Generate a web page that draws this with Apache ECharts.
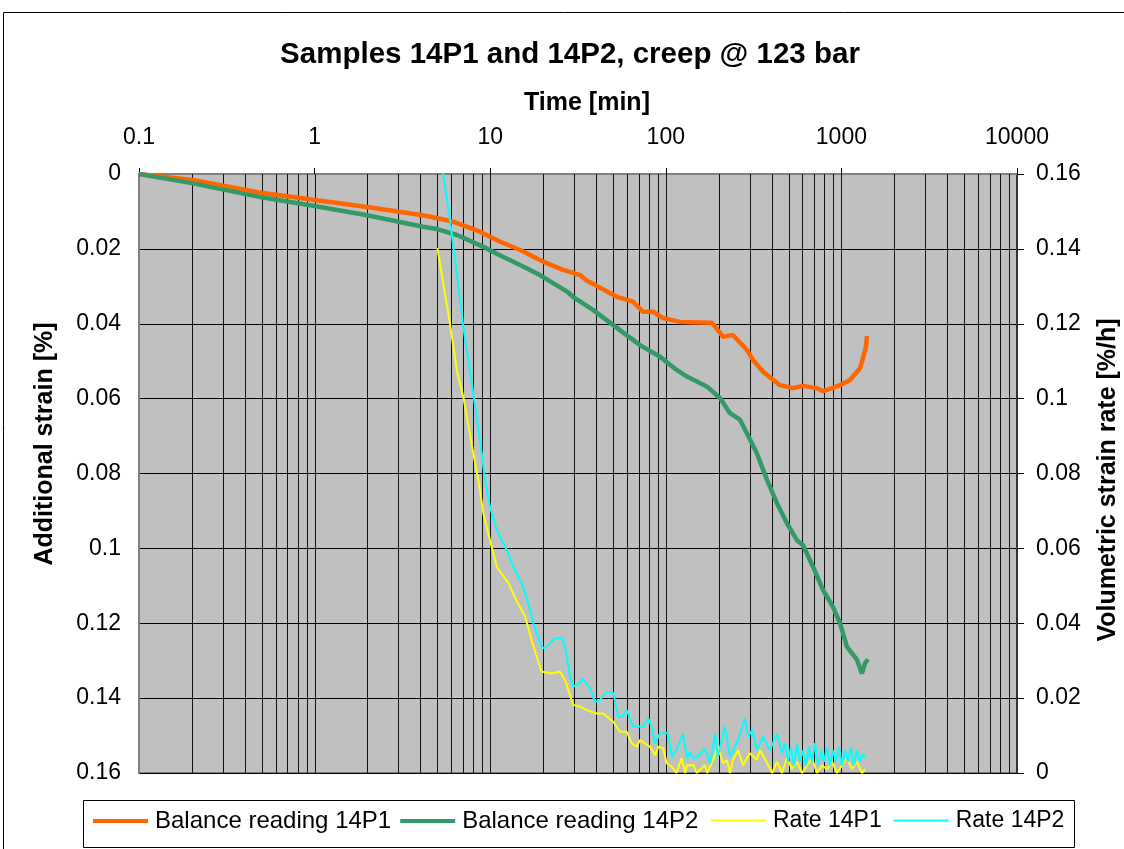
<!DOCTYPE html>
<html>
<head>
<meta charset="utf-8">
<title>Samples 14P1 and 14P2, creep @ 123 bar</title>
<script src="https://cdn.jsdelivr.net/npm/echarts@6/dist/echarts.min.js"></script>
<style>
  html, body { margin: 0; padding: 0; background: #fff; }
  #chart { width: 1124px; height: 849px; }
</style>
</head>
<body>
<div id="chart"></div>
<script>
// Time axis (log, minutes) decade labels
const xTicks = [0.1, 1, 10, 100, 1000, 10000];

// Balance reading 14P1: time [min] and additional strain [%]
const timeBal14P1 = [0.1, 0.203, 0.508, 0.98, 1.99, 4.14, 6.14, 8.75, 11.4, 14.8,
  20.0, 26.0, 32.5, 35.6, 52.7, 65.0, 74.1, 84.6, 96.4, 120.5,
  183, 212, 241, 290, 314, 358, 447, 530, 604, 726,
  785, 884, 982, 1119, 1276, 1327, 1380, 1399];
const strain14P1 = [0, 0.0016, 0.0051, 0.0069, 0.0088, 0.0110, 0.0127, 0.0154, 0.0181, 0.0203,
  0.0234, 0.0256, 0.0270, 0.0285, 0.0328, 0.0341, 0.0368, 0.0368, 0.0385, 0.0395,
  0.0397, 0.0435, 0.0430, 0.0470, 0.0497, 0.0528, 0.0564, 0.0572, 0.0566, 0.0572,
  0.0580, 0.0572, 0.0564, 0.0550, 0.0519, 0.0492, 0.0461, 0.0433];

// Balance reading 14P2
const timeBal14P2 = [0.1, 0.203, 0.508, 0.98, 1.99, 4.14, 4.98, 6.47, 9.10, 11.8,
  14.8, 19.2, 27.4, 29.6, 38.5, 54.8, 71.3, 92.7, 115.8, 132,
  172, 204, 232, 265, 290, 330, 377, 430, 490, 558,
  604, 689, 785, 895, 982, 1076, 1227, 1309, 1362, 1416];
const strain14P2 = [0, 0.0025, 0.0063, 0.0085, 0.0110, 0.0141, 0.0147, 0.0163, 0.0194, 0.0221,
  0.0243, 0.0270, 0.0314, 0.0328, 0.0363, 0.0417, 0.0457, 0.0488, 0.0524, 0.0541,
  0.0568, 0.0599, 0.0639, 0.0657, 0.0693, 0.0746, 0.0817, 0.0880, 0.0933, 0.0978,
  0.0991, 0.1049, 0.1111, 0.1156, 0.1200, 0.1263, 0.1298, 0.1334, 0.1307, 0.1296];

// Rate 14P1: time [min] and volumetric strain rate [%/h]
const timeRate14P1 = [5.0, 5.90, 6.45, 7.03, 8.01, 8.56, 9.14, 9.97, 10.9, 12.7,
  14.2, 15.8, 17.2, 19.6, 22.4, 24.9, 26.7, 29.7, 32.5, 35.5,
  40.4, 44.0, 50.2, 54.8, 59.9, 64.0, 68.3, 71.3, 81.3, 86.8,
  90.6, 96.8, 101, 108, 115, 123, 129, 132, 144, 150,
  167, 172, 186, 198, 212, 223, 232, 241, 258, 275,
  301, 330, 344, 377, 403, 430, 459, 490, 524, 558,
  597, 637, 680, 726, 776, 828, 884, 944, 1007, 1076,
  1148, 1227, 1309, 1362];
const rate14P1 = [0.1402, 0.1201, 0.1076, 0.1005, 0.0854, 0.0783, 0.0694, 0.0622, 0.0551, 0.0507,
  0.0458, 0.0418, 0.0355, 0.0271, 0.0266, 0.0271, 0.0248, 0.0182, 0.0177, 0.0168,
  0.0159, 0.0159, 0.0137, 0.0110, 0.0110, 0.0079, 0.0070, 0.0088, 0.0070, 0.0048,
  0.0070, 0.0066, 0.0026, 0.0017, 0, 0.0039, 0, 0.0021, 0.0021, 0,
  0.0021, 0, 0.0035, 0.0070, 0.0026, 0.0035, 0, 0.0035, 0.0061, 0.0021,
  0.0053, 0.0035, 0.0061, 0.0027, 0, 0.0030, 0, 0.0040, 0.0010, 0.0030,
  0, 0.0020, 0.0040, 0, 0.0020, 0.0010, 0.0030, 0, 0.0020, 0.0040,
  0.0010, 0.0030, 0, 0.0010];

// Rate 14P2
const timeRate14P2 = [5.0, 5.41, 5.90, 6.45, 7.03, 8.01, 8.95, 9.34, 9.97, 10.9,
  12.4, 13.8, 15.1, 16.1, 17.6, 19.6, 20.5, 23.4, 25.5, 26.7,
  28.5, 29.7, 32.5, 33.6, 37.0, 39.5, 42.2, 46.0, 50.2, 53.6,
  56.1, 59.9, 62.5, 65.3, 74.5, 79.5, 83.1, 86.8, 92.7, 103,
  108, 115, 125, 132, 137, 144, 152, 167, 179, 191,
  198, 217, 232, 258, 282, 294, 310, 330, 358, 392,
  430, 459, 478, 497, 516, 537, 558, 581, 604, 628,
  653, 680, 708, 736, 765, 796, 828, 861, 895, 931,
  968, 1007, 1047, 1089, 1133, 1180, 1227, 1276, 1327, 1362];
const rate14P2 = [0.1726, 0.1597, 0.1477, 0.1335, 0.1192, 0.1014, 0.0854, 0.0783, 0.0711, 0.0649,
  0.0596, 0.0542, 0.0507, 0.0471, 0.0400, 0.0337, 0.0333, 0.0360, 0.0360, 0.0337,
  0.0257, 0.0231, 0.0240, 0.0253, 0.0226, 0.0190, 0.0195, 0.0217, 0.0214, 0.0150,
  0.0149, 0.0168, 0.0146, 0.0124, 0.0124, 0.0146, 0.0124, 0.0079, 0.0106, 0.0106,
  0.0044, 0.0061, 0.0106, 0.0039, 0.0057, 0.0039, 0.0044, 0.0066, 0.0026, 0.0106,
  0.0044, 0.0124, 0.0044, 0.0088, 0.0146, 0.0097, 0.0115, 0.0061, 0.0097, 0.0061,
  0.0106, 0.0053, 0.0080, 0.0030, 0.0070, 0.0020, 0.0080, 0.0030, 0.0060, 0.0020,
  0.0070, 0.0030, 0.0080, 0.0020, 0.0060, 0.0030, 0.0070, 0.0020, 0.0060, 0.0030,
  0.0070, 0.0020, 0.0060, 0.0030, 0.0070, 0.0020, 0.0060, 0.0030, 0.0050, 0.0040];

const FONT = '"Liberation Sans", Arial, sans-serif';
const zip = (xs, ys) => xs.map((x, i) => [x, ys[i]]);

// vertical grid at every 1..9 step of each decade
const gridTimes = [];
for (let d = 0; d < xTicks.length - 1; d++) {
  for (let m = 1; m <= 9; m++) {
    const v = xTicks[d] * m;
    if (v > xTicks[0]) gridTimes.push([v, 0]);
  }
}

const chart = echarts.init(document.getElementById('chart'), null, { renderer: 'canvas' });

const labelStyle = { color: '#000', fontSize: 23, fontFamily: FONT };

chart.setOption({
  animation: false,
  backgroundColor: '#ffffff',
  grid: {
    left: 139, right: 107, top: 174, bottom: 76,
    show: true, backgroundColor: '#C0C0C0',
    borderColor: '#808080', borderWidth: 2
  },
  xAxis: {
    type: 'log', logBase: 10, position: 'top',
    min: xTicks[0], max: xTicks[xTicks.length - 1],
    axisLine: { show: true, lineStyle: { color: '#808080', width: 2 } },
    axisTick: { show: true, length: 6, lineStyle: { color: '#000', width: 1 } },
    axisLabel: Object.assign({
      margin: 25,
      formatter: function (v) {
        let best = xTicks[0];
        xTicks.forEach(t => { if (Math.abs(Math.log10(t) - Math.log10(v)) < Math.abs(Math.log10(best) - Math.log10(v))) best = t; });
        return String(best);
      }
    }, labelStyle),
    splitLine: { show: false },
    minorTick: { show: false },
    minorSplitLine: { show: false }
  },
  yAxis: [
    {
      type: 'value', position: 'left', inverse: true,
      min: 0, max: 0.16, interval: 0.02,
      axisLine: { show: true, lineStyle: { color: '#808080', width: 2 } },
      axisTick: { show: false },
      axisLabel: Object.assign({ margin: 18 }, labelStyle),
      splitLine: { show: true, lineStyle: { color: '#000', width: 1 } }
    },
    {
      type: 'value', position: 'right',
      min: 0, max: 0.16, interval: 0.02,
      axisLine: { show: true, lineStyle: { color: '#333', width: 2 } },
      axisTick: { show: true, length: 7, lineStyle: { color: '#000', width: 1 } },
      axisLabel: Object.assign({ margin: 19 }, labelStyle),
      splitLine: { show: false }
    }
  ],
  legend: [
    {
      data: ['Balance reading 14P1', 'Balance reading 14P2'],
      left: 93, top: 809, padding: 0,
      icon: 'rect', itemWidth: 55, itemHeight: 4, itemGap: 9,
      selectedMode: false,
      textStyle: { color: '#000', fontSize: 24, fontFamily: FONT, padding: [0, 0, 0, 2] }
    },
    {
      data: ['Rate 14P1', 'Rate 14P2'],
      left: 711, top: 809, padding: 0,
      icon: 'rect', itemWidth: 55, itemHeight: 2, itemGap: 12,
      selectedMode: false,
      textStyle: { color: '#000', fontSize: 23, fontFamily: FONT, padding: [0, 0, 0, 2] }
    }
  ],
  graphic: [
    { type: 'rect', silent: true, z: -10,
      shape: { x: 3.5, y: 12.5, width: 1200, height: 900 },
      style: { fill: 'none', stroke: '#000', lineWidth: 1 } },
    { type: 'rect', silent: true, z: -5,
      shape: { x: 83.5, y: 800.5, width: 991, height: 47 },
      style: { fill: '#fff', stroke: '#000', lineWidth: 1 } },
    { type: 'text', silent: true, x: 570, y: 55,
      style: { text: 'Samples 14P1 and 14P2, creep @ 123 bar', fill: '#000',
        font: 'bold 29.5px ' + FONT, align: 'center', verticalAlign: 'middle' } },
    { type: 'text', silent: true, x: 587, y: 103,
      style: { text: 'Time [min]', fill: '#000',
        font: 'bold 25px ' + FONT, align: 'center', verticalAlign: 'middle' } },
    { type: 'text', silent: true, x: 45, y: 444, rotation: Math.PI / 2,
      style: { text: 'Additional strain [%]', fill: '#000',
        font: 'bold 25px ' + FONT, align: 'center', verticalAlign: 'middle' } },
    { type: 'text', silent: true, x: 1108, y: 480, rotation: Math.PI / 2,
      style: { text: 'Volumetric strain rate [%/h]', fill: '#000',
        font: 'bold 25px ' + FONT, align: 'center', verticalAlign: 'middle' } }
  ],
  series: [
    {
      // minor/major vertical grid lines of the log time axis
      type: 'custom', name: 'timeGrid', xAxisIndex: 0, yAxisIndex: 0,
      z: 1, silent: true, data: gridTimes, encode: { x: 0, y: 1 },
      renderItem: function (params, api) {
        const cs = params.coordSys;
        const x = Math.round(api.coord([api.value(0), 0])[0]) + 0.5;
        return {
          type: 'line',
          shape: { x1: x, y1: cs.y, x2: x, y2: cs.y + cs.height },
          style: { stroke: '#111', lineWidth: 1 }
        };
      }
    },
    {
      name: 'Balance reading 14P1', type: 'line', xAxisIndex: 0, yAxisIndex: 0, z: 3,
      data: zip(timeBal14P1, strain14P1), symbol: 'none', showSymbol: false,
      color: '#FF6600', lineStyle: { color: '#FF6600', width: 4.5 }
    },
    {
      name: 'Balance reading 14P2', type: 'line', xAxisIndex: 0, yAxisIndex: 0, z: 3,
      data: zip(timeBal14P2, strain14P2), symbol: 'none', showSymbol: false,
      color: '#339966', lineStyle: { color: '#339966', width: 4.5 }
    },
    {
      name: 'Rate 14P1', type: 'line', xAxisIndex: 0, yAxisIndex: 1, z: 4,
      data: zip(timeRate14P1, rate14P1), symbol: 'none', showSymbol: false,
      color: '#FFFF00', lineStyle: { color: '#FFFF00', width: 2 }
    },
    {
      name: 'Rate 14P2', type: 'line', xAxisIndex: 0, yAxisIndex: 1, z: 4,
      data: zip(timeRate14P2, rate14P2), symbol: 'none', showSymbol: false,
      color: '#00FFFF', lineStyle: { color: '#00FFFF', width: 2 }
    }
  ]
});
</script>
</body>
</html>
